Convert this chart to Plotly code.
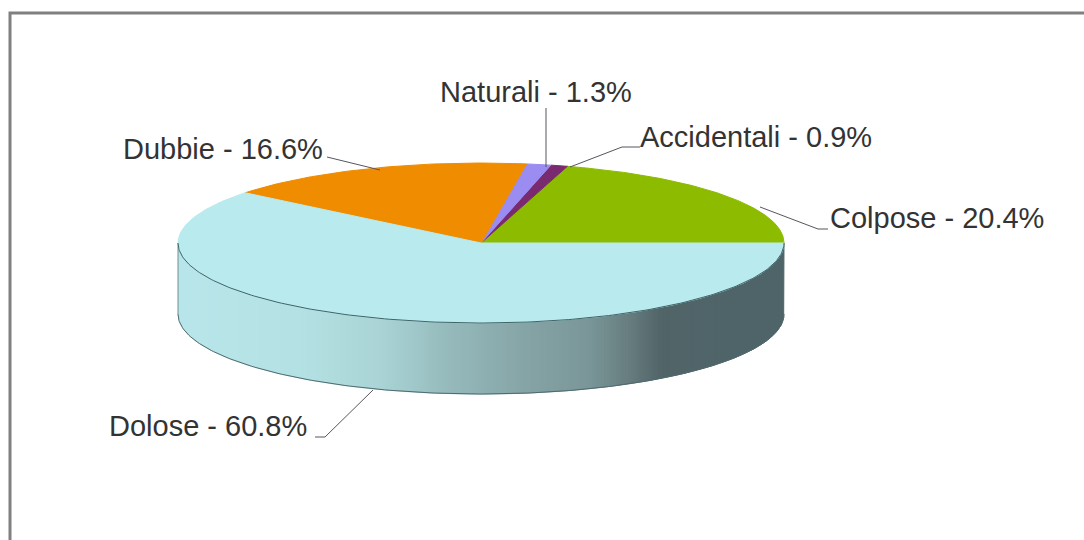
import numpy as np
import plotly.graph_objects as go

# valori, in senso antiorario da est
categories = ["Colpose", "Accidentali", "Naturali", "Dubbie", "Dolose"]
shares = [20.4, 0.9, 1.3, 16.6, 60.8]
colors = ["#8CBB00", "#7A2A6E", "#9A8CF0", "#F08C00", "#B8EAEE"]

# posizione etichette in pixel (x sinistra, y centro)
label_pos = {
    "Colpose": (828, 218),
    "Accidentali": (638, 137),
    "Naturali": (438, 92),
    "Dubbie": (121, 149),
    "Dolose": (107, 426),
}
leaders = [
    ([828, 818, 760], [229, 229, 207]),
    ([640, 622, 570], [147, 147, 167]),
    ([546, 546], [108, 167]),
    ([327, 380], [157, 170]),
    ([315, 325, 373], [437, 437, 390]),
]

CX, CY, RX, RY, DEPTH = 481, 243, 303, 80, 71

# sfumatura del bordo laterale
wall_x = [177, 300, 380, 450, 520, 590, 625, 660, 784]
wall_r = [184, 180, 170, 150, 135, 122, 105, 82, 78]
wall_g = [230, 226, 212, 186, 166, 150, 128, 102, 100]
wall_b = [234, 228, 214, 188, 168, 152, 130, 106, 104]

fig = go.Figure()


def ellipse(t):
    return CX + RX * np.cos(t), CY - RY * np.sin(t)


# parete laterale a strisce, larghe uguali in orizzontale
edges = np.linspace(CX - RX, CX + RX, 203)
angles = 2 * np.pi - np.arccos((edges - CX) / RX)
for a, b in zip(angles[:-1], angles[1:]):
    t = np.linspace(a, b, 4)
    x, y = ellipse(t)
    mid = x.mean()
    col = "rgb(%d,%d,%d)" % (
        np.interp(mid, wall_x, wall_r),
        np.interp(mid, wall_x, wall_g),
        np.interp(mid, wall_x, wall_b),
    )
    fig.add_trace(go.Scatter(
        x=list(x) + list(x[::-1]),
        y=list(y) + list(y[::-1] + DEPTH),
        mode="lines", fill="toself", fillcolor=col,
        line=dict(color=col, width=1), hoverinfo="skip", showlegend=False,
    ))

# contorno inferiore
t = np.linspace(np.pi, 2 * np.pi, 200)
x, y = ellipse(t)
fig.add_trace(go.Scatter(x=x, y=y + DEPTH, mode="lines",
                         line=dict(color="#4F6A6E", width=1),
                         hoverinfo="skip", showlegend=False))
fig.add_trace(go.Scatter(x=[CX - RX, CX - RX], y=[CY, CY + DEPTH], mode="lines",
                         line=dict(color="#6E9095", width=1),
                         hoverinfo="skip", showlegend=False))

# spicchi superiori
start = 0.0
for name, share, color in zip(categories, shares, colors):
    end = start + share / 100 * 2 * np.pi
    t = np.linspace(start, end, max(int(share * 6), 4))
    x, y = ellipse(t)
    fig.add_trace(go.Scatter(
        x=[CX] + list(x) + [CX], y=[CY] + list(y) + [CY],
        mode="lines", fill="toself", fillcolor=color,
        line=dict(color=color, width=1),
        name=name, hoverinfo="name", showlegend=False,
    ))
    start = end

# linea scura sul bordo frontale del piano
t = np.linspace(np.pi, 2 * np.pi, 200)
x, y = ellipse(t)
fig.add_trace(go.Scatter(x=x, y=y, mode="lines",
                         line=dict(color="#3F6468", width=1),
                         hoverinfo="skip", showlegend=False))

# linee guida
for lx, ly in leaders:
    fig.add_trace(go.Scatter(x=lx, y=ly, mode="lines",
                             line=dict(color="#55555F", width=1),
                             hoverinfo="skip", showlegend=False))

# etichette
for name, share in zip(categories, shares):
    px, py = label_pos[name]
    fig.add_annotation(x=px, y=py, text=f"{name} - {share}%", showarrow=False,
                       xanchor="left", yanchor="middle",
                       font=dict(family="Liberation Sans", size=29, color="#333333"))

# cornice
fig.add_trace(go.Scatter(x=[10, 10, 1084], y=[540, 13, 13], mode="lines",
                         line=dict(color="#808080", width=3),
                         hoverinfo="skip", showlegend=False))

fig.update_layout(
    width=1084, height=540,
    margin=dict(l=0, r=0, t=0, b=0),
    paper_bgcolor="white", plot_bgcolor="white",
    xaxis=dict(range=[0, 1084], visible=False, fixedrange=True),
    yaxis=dict(range=[540, 0], visible=False, fixedrange=True),
)

# la pagina ha un margine di 8px di default
fig.write_html("out.html", post_script="document.body.style.margin='0';document.body.style.overflow='hidden';",
               config={"displayModeBar": False})
